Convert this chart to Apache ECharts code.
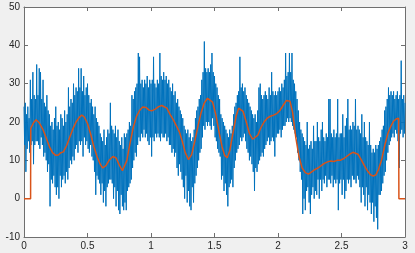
<!DOCTYPE html>
<html>
<head>
<meta charset="utf-8">
<script src="https://cdn.jsdelivr.net/npm/echarts@6/dist/echarts.min.js"></script>
<style>
html,body{margin:0;padding:0;background:#F0F0F0;}
#c{width:415px;height:253px;}
</style>
</head>
<body>
<div id="c"></div>
<script>
// Noisy signal, one value every 0.005 s from t = 0 to t = 3
const timeStep = 0.005;
const noisy = [
  24, 14, 25, 7, 22, 13, 24, 15, 21, 12,
  31, 14, 26, 15, 33, 9, 27, 14, 26, 15,
  35, 15, 27, 14, 34, 13, 33, 16, 26, 14,
  31, 11, 25, 12, 24, 10, 27, 7, 23, 9,
  22, -2, 19, 5, 20, 4, 18, 6, 21, 3,
  24, 1, 19, 3, 20, 0, 18, 6, 22, 3,
  21, 5, 19, 6, 23, 4, 20, 7, 22, 5,
  29, 8, 24, 10, 26, 9, 25, 11, 30, 10,
  27, 13, 29, 14, 28, 12, 34, 15, 29, 14,
  34, 15, 28, 11, 32, 16, 27, 14, 29, 15,
  30, 13, 27, 12, 25, 14, 26, 11, 24, 10,
  22, 7, 24, 1, 21, 6, 20, 5, 19, 4,
  17, 1, 16, 4, 15, -1, 18, 2, 14, -2,
  16, 3, 18, 4, 17, 5, 25, 5, 19, 4,
  18, 0, 17, 3, 19, -2, 16, 2, 18, -3,
  15, -4, 14, 1, 16, -2, 13, -3, 17, -1,
  16, -3, 17, 2, 18, 3, 20, 4, 19, 5,
  27, 8, 26, 10, 28, 12, 29, 11, 30, 14,
  38, 16, 37, 15, 30, 17, 31, 16, 29, 18,
  31, 16, 30, 17, 32, 15, 29, 14, 31, 16,
  30, 11, 31, 16, 37, 15, 30, 17, 29, 16,
  31, 17, 30, 16, 38, 15, 32, 17, 31, 16,
  33, 16, 31, 17, 32, 15, 30, 16, 31, 14,
  29, 14, 28, 12, 30, 13, 27, 11, 28, 12,
  25, 8, 26, 6, 24, 9, 23, 7, 22, 5,
  21, 3, 19, 0, 18, 6, 17, -1, 18, 2,
  16, -2, 17, -3, 15, 3, 16, -1, 18, 4,
  21, 6, 23, 8, 24, 10, 26, 12, 27, 13,
  31, 16, 33, 19, 41, 18, 34, 20, 33, 19,
  34, 20, 33, 19, 35, 18, 38, 21, 33, 19,
  32, 16, 30, 15, 29, 13, 27, 12, 26, 11,
  22, 5, 21, 6, 20, 2, 19, 4, 18, 1,
  17, -2, 16, 3, 18, 4, 17, 5, 19, 3,
  22, 8, 24, 10, 25, 12, 27, 13, 28, 14,
  37, 16, 29, 15, 30, 16, 28, 17, 29, 15,
  27, 13, 26, 12, 25, 10, 24, 11, 23, 9,
  22, 7, 21, 2, 22, 8, 20, 7, 23, 9,
  29, 10, 30, 11, 27, 12, 26, 11, 27, 13,
  28, 14, 27, 15, 26, 16, 29, 14, 27, 15,
  33, 16, 28, 15, 27, 11, 28, 16, 27, 17,
  28, 17, 29, 18, 28, 16, 30, 18, 29, 19,
  31, 19, 38, 20, 32, 21, 33, 20, 38, 21,
  33, 20, 38, 19, 31, 18, 30, 17, 28, 16,
  26, 12, 23, 10, 20, 7, 18, 5, 17, -4,
  16, 0, 15, -3, 14, 2, 20, 3, 13, -1,
  14, -4, 15, 1, 13, 3, 19, 0, 15, 2,
  15, 1, 20, 5, 16, 0, 15, 5, 18, 2,
  20, 5, 16, 4, 15, 6, 17, 3, 16, 5,
  26, 5, 26, 4, 17, 6, 16, 3, 18, 5,
  16, 4, 17, 5, 26, -3, 16, 4, 17, 5,
  17, 1, 22, 5, 16, 0, 19, 2, 21, 5,
  26, 4, 18, 5, 19, 3, 18, 6, 20, 5,
  19, 5, 26, 4, 18, 6, 19, 5, 18, 3,
  17, -1, 22, 3, 16, 1, 20, -2, 16, 3,
  15, -3, 14, 1, 20, -1, 14, -4, 12, -1,
  13, -6, 12, -2, 14, -5, 13, -8, 14, 1,
  15, 1, 16, 2, 18, 4, 19, 6, 23, 7,
  24, 10, 26, 12, 29, 14, 27, 15, 28, 16,
  27, 17, 28, 16, 26, 18, 27, 17, 28, 15,
  26, 8, 27, 17, 36, 18, 26, 16, 27, 17,
  25
];

// Smoothed (filtered) signal: time points and values
const smoothT = [0, 0.052, 0.053, 0.075, 0.095, 0.12, 0.15, 0.175, 0.2, 0.225, 0.25, 0.27, 0.29, 0.31,
  0.335, 0.36, 0.385, 0.41, 0.435, 0.455, 0.475, 0.5, 0.525, 0.55, 0.575, 0.6, 0.62, 0.645, 0.67,
  0.7, 0.725, 0.75, 0.775, 0.79, 0.81, 0.835, 0.86, 0.885, 0.91, 0.935, 0.96, 0.985, 1.005, 1.03,
  1.06, 1.085, 1.1, 1.125, 1.15, 1.175, 1.2, 1.225, 1.25, 1.27, 1.295, 1.32, 1.345, 1.37, 1.395,
  1.42, 1.445, 1.46, 1.485, 1.51, 1.535, 1.56, 1.58, 1.6, 1.62, 1.645, 1.67, 1.69, 1.705, 1.725,
  1.75, 1.775, 1.8, 1.815, 1.84, 1.865, 1.89, 1.915, 1.94, 1.965, 1.99, 2.015, 2.04, 2.065, 2.08,
  2.095, 2.115, 2.14, 2.165, 2.19, 2.215, 2.24, 2.265, 2.29, 2.315, 2.34, 2.365, 2.39, 2.415, 2.44,
  2.465, 2.49, 2.515, 2.54, 2.565, 2.59, 2.605, 2.63, 2.655, 2.68, 2.705, 2.73, 2.75, 2.77, 2.79,
  2.815, 2.84, 2.865, 2.89, 2.91, 2.93, 2.95, 2.952, 3.0];
const smoothV = [0, 0, 18.3, 19.8, 20.6, 19.8, 18.0, 15.8, 13.6, 12.0, 11.3, 11.4, 12.0, 12.2,
  13.8, 16.0, 18.2, 20.0, 21.2, 21.8, 21.3, 19.6, 16.8, 13.6, 11.0, 9.0, 8.0, 8.6, 10.0,
  11.0, 10.6, 8.8, 7.3, 7.6, 10.0, 14.5, 18.5, 21.4, 23.0, 23.9, 23.8, 23.1, 22.9, 23.3,
  24.0, 24.3, 24.4, 23.6, 22.0, 20.6, 19.0, 17.3, 14.5, 12.0, 10.2, 11.5, 15.0, 19.0, 22.5,
  25.0, 26.2, 26.3, 25.2, 22.0, 17.5, 13.5, 11.3, 10.7, 12.5, 17.0, 21.5, 23.6, 23.9, 22.8,
  20.0, 17.0, 15.5, 15.3, 16.5, 18.5, 20.0, 21.0, 21.5, 21.8, 22.2, 23.0, 24.3, 25.6, 26.1,
  25.4, 22.5, 16.0, 11.0, 8.0, 6.8, 6.4, 7.0, 7.6, 8.0, 8.6, 9.2, 9.6, 9.8, 9.7,
  10.0, 10.0, 10.4, 11.0, 11.6, 12.1, 12.2, 11.6, 10.2, 8.6, 7.2, 6.2, 5.9, 6.2, 7.5,
  10.0, 13.8, 17.0, 19.0, 20.2, 20.8, 21.0, 0, 0];

const xTicks = [0, 0.5, 1, 1.5, 2, 2.5, 3];
const yTicks = [-10, 0, 10, 20, 30, 40, 50];

const noisyData = noisy.map((v, i) => [Number((i * timeStep).toFixed(4)), v]);
const smoothData = smoothT.map((t, i) => [t, smoothV[i]]);

const axisCol = '#262626';
const lineCol = '#6f6f6f';
const font = 'Liberation Sans, Arial, Helvetica, sans-serif';

function xAx(pos, showLabel) {
  return {
    type: 'value', position: pos, min: xTicks[0], max: xTicks[xTicks.length - 1], interval: 0.5,
    axisLine: { show: true, onZero: false, lineStyle: { color: lineCol, width: 1 } },
    axisTick: { show: true, inside: true, length: 4, lineStyle: { color: lineCol } },
    axisLabel: { show: showLabel, color: axisCol, fontSize: 10, fontFamily: font, margin: 4,
      formatter: v => String(v) },
    splitLine: { show: false }
  };
}
function yAx(pos, showLabel) {
  return {
    type: 'value', position: pos, min: yTicks[0], max: yTicks[yTicks.length - 1], interval: 10,
    axisLine: { show: true, onZero: false, lineStyle: { color: lineCol, width: 1 } },
    axisTick: { show: true, inside: true, length: 4, lineStyle: { color: lineCol } },
    axisLabel: { show: showLabel, color: axisCol, fontSize: 10, fontFamily: font, margin: 4 },
    splitLine: { show: false }
  };
}

const chart = echarts.init(document.getElementById('c'), null, { renderer: 'canvas' });
chart.setOption({
  animation: false,
  backgroundColor: '#F0F0F0',
  grid: { left: 24, right: 10, top: 7, bottom: 16, show: true, backgroundColor: '#ffffff', borderWidth: 0 },
  xAxis: [xAx('bottom', true), xAx('top', false)],
  yAxis: [yAx('left', true), yAx('right', false)],
  series: [
    {
      type: 'line', data: noisyData, xAxisIndex: 0, yAxisIndex: 0,
      showSymbol: false, symbol: 'none', sampling: null,
      lineStyle: { color: '#0072BD', width: 1 }, itemStyle: { color: '#0072BD' }
    },
    {
      type: 'line', data: smoothData, xAxisIndex: 0, yAxisIndex: 0,
      showSymbol: false, symbol: 'none',
      lineStyle: { color: '#D95319', width: 1.5 }, itemStyle: { color: '#D95319' }
    }
  ]
});
</script>
</body>
</html>
